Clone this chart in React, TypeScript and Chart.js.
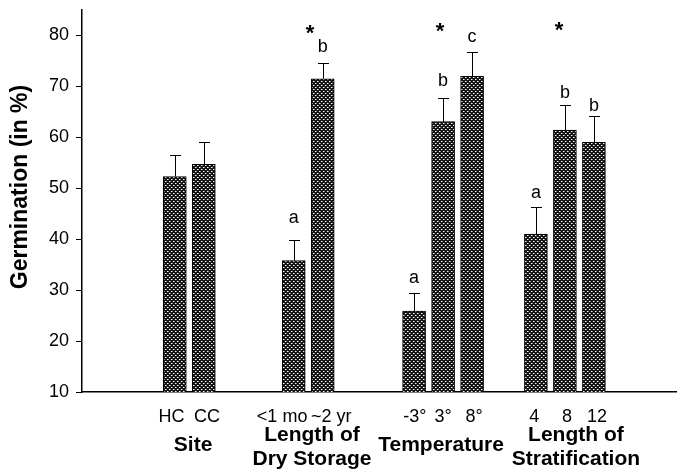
import React, { useEffect, useRef } from 'react';
import { Chart, registerables } from 'chart.js';

Chart.register(...registerables);

const barLabels = ['HC', 'CC', '<1 mo', '~2 yr', '-3°', '3°', '8°', '4', '8', '12'];
const barPositions = [3.2, 4.2, 7.3, 8.3, 11.45, 12.45, 13.45, 15.65, 16.65, 17.65];
const labelPositions = [3.09, 4.31, 6.9, 8.59, 11.48, 12.45, 13.52, 15.59, 16.72, 17.76];
const germination = [52.3, 54.7, 35.8, 71.5, 25.9, 63.1, 72.0, 41.0, 61.4, 59.0];
const errorTop = [56.6, 59.0, 39.9, 74.6, 29.5, 67.8, 76.7, 46.4, 66.4, 64.1];
const letters = ['', '', 'a', 'b', 'a', 'b', 'c', 'a', 'b', 'b'];
const letterLevels = [0, 0, 43.2, 76.7, 31.4, 70.0, 78.8, 48.1, 67.8, 65.1];
const groupTitles = [['Site'], ['Length of', 'Dry Storage'], ['Temperature'], ['Length of', 'Stratification']];
const groupTitlePositions = [3.83, 7.93, 12.38, 17.03];
const asteriskPositions = [7.86, 12.34, 16.45];
const asteriskLevels = [81.4, 81.9, 82.0];
const yTicks = [10, 20, 30, 40, 50, 60, 70, 80];
const yTitle = 'Germination (in %)';

const FONT = '"Liberation Sans", Arial, Helvetica, sans-serif';

function makePattern(): CanvasPattern | string {
  const c = document.createElement('canvas');
  c.width = 4;
  c.height = 4;
  const g = c.getContext('2d');
  if (!g) return '#444';
  g.fillStyle = '#151515';
  g.fillRect(0, 0, 4, 4);
  g.fillStyle = '#ffffff';
  g.fillRect(1, 1, 1, 1);
  g.fillRect(3, 3, 1, 1);
  g.fillStyle = '#8a8a8a';
  g.fillRect(2, 1, 1, 1);
  g.fillRect(0, 3, 1, 1);
  const p = g.createPattern(c, 'repeat');
  return p || '#444';
}

const annotate = {
  id: 'annotate',
  afterDatasetsDraw(chart: any) {
    const { ctx, scales } = chart;
    const x = scales.x;
    const y = scales.y;
    ctx.save();
    // error bars
    ctx.strokeStyle = '#000';
    ctx.lineWidth = 1;
    germination.forEach((v, i) => {
      const px = Math.round(x.getPixelForValue(barPositions[i])) + 0.5;
      const top = y.getPixelForValue(v);
      const et = Math.round(y.getPixelForValue(errorTop[i])) + 0.5;
      ctx.beginPath();
      ctx.moveTo(px, top);
      ctx.lineTo(px, et);
      ctx.moveTo(px - 5.5, et);
      ctx.lineTo(px + 5.5, et);
      ctx.stroke();
    });
    // letters
    ctx.fillStyle = '#000';
    ctx.textAlign = 'center';
    ctx.textBaseline = 'alphabetic';
    ctx.font = `18px ${FONT}`;
    letters.forEach((l, i) => {
      if (!l) return;
      ctx.fillText(l, x.getPixelForValue(barPositions[i]), y.getPixelForValue(letterLevels[i]));
    });
    // asterisks
    ctx.font = `bold 22px ${FONT}`;
    asteriskPositions.forEach((p, i) => {
      ctx.fillText('*', x.getPixelForValue(p), y.getPixelForValue(asteriskLevels[i]) + 12);
    });
    // group titles
    ctx.font = `bold 21px ${FONT}`;
    const base = chart.chartArea.bottom;
    groupTitles.forEach((lines, i) => {
      const px = x.getPixelForValue(groupTitlePositions[i]);
      if (lines.length === 1) {
        ctx.fillText(lines[0], px, base + 59);
      } else {
        ctx.fillText(lines[0], px, base + 49);
        ctx.fillText(lines[1], px, base + 73);
      }
    });
    // y title
    ctx.font = `bold 23px ${FONT}`;
    ctx.textBaseline = 'middle';
    ctx.translate(21, (chart.chartArea.top + chart.chartArea.bottom) / 2 - 14);
    ctx.rotate(-Math.PI / 2);
    ctx.fillText(yTitle, 0, 0);
    ctx.restore();
  },
};

export default function App() {
  const ref = useRef<HTMLCanvasElement | null>(null);
  useEffect(() => {
    if (!ref.current) return;
    const pattern = makePattern();
    const chart = new Chart(ref.current, {
      type: 'bar',
      data: {
        datasets: [
          {
            data: germination.map((v, i) => ({ x: barPositions[i], y: v })),
            backgroundColor: pattern as any,
            borderColor: '#000',
            borderWidth: 1,
            borderSkipped: 'bottom',
            barThickness: 23,
          },
        ],
      },
      options: {
        animation: false,
        responsive: true,
        maintainAspectRatio: false,
        layout: { padding: { left: 0, right: 2, top: 10, bottom: 0 } },
        plugins: { legend: { display: false }, tooltip: { enabled: false }, title: { display: false } },
        scales: {
          x: {
            type: 'linear',
            min: 0,
            max: 20.48,
            offset: false,
            grid: { display: false },
            border: { display: true, color: '#000', width: 1.5 },
            afterBuildTicks: (scale: any) => {
              scale.ticks = labelPositions.map((p) => ({ value: p }));
            },
            afterFit: (scale: any) => {
              scale.height = 80;
              scale.paddingLeft = 0;
              scale.paddingRight = 0;
            },
            ticks: {
              autoSkip: false,
              maxRotation: 0,
              padding: 6,
              color: '#000',
              font: { family: FONT, size: 18 },
              callback: (_v: any, idx: number) => barLabels[idx],
            },
          },
          y: {
            type: 'linear',
            min: 10,
            max: 85,
            grid: { display: true, drawOnChartArea: false, drawTicks: true, tickLength: 6, color: '#000', lineWidth: 1 },
            border: { display: true, color: '#000', width: 1.5 },
            afterBuildTicks: (scale: any) => {
              scale.ticks = yTicks.map((v) => ({ value: v }));
            },
            afterFit: (scale: any) => {
              scale.width = 82;
              scale.paddingTop = 0;
              scale.paddingBottom = 0;
            },
            ticks: {
              padding: 7,
              color: '#000',
              font: { family: FONT, size: 18 },
            },
          },
        },
      },
      plugins: [annotate],
    });
    return () => chart.destroy();
  }, []);
  return (
    <div style={{ position: 'absolute', left: 0, top: 0, width: 678, height: 472, background: '#fff' }}>
      <canvas ref={ref} />
    </div>
  );
}
